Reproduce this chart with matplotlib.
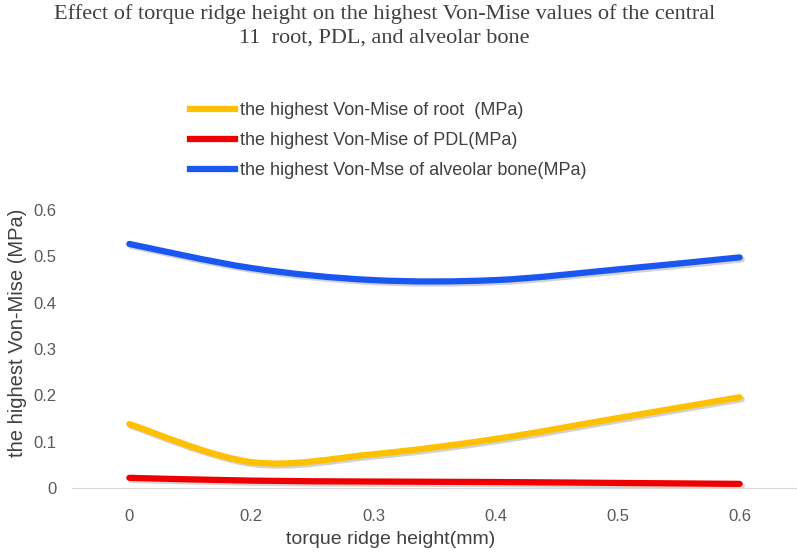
import matplotlib.pyplot as plt
import matplotlib.patheffects as pe
import numpy as np
from matplotlib.path import Path
from matplotlib.patches import PathPatch
from matplotlib.lines import Line2D

plt.rcParams['font.family'] = ['Liberation Sans', 'DejaVu Sans']

heights = ['0', '0.2', '0.3', '0.4', '0.5', '0.6']
root = [0.138, 0.056, 0.073, 0.106, 0.151, 0.196]
pdl = [0.022, 0.016, 0.014, 0.013, 0.011, 0.009]
bone = [0.527, 0.475, 0.449, 0.449, 0.472, 0.498]

labels = ['the highest Von-Mise of root  (MPa)',
          'the highest Von-Mise of PDL(MPa)',
          'the highest Von-Mse of alveolar bone(MPa)']
colors = ['#FFC000', '#EE0000', '#1A56F0']


def smooth_path(x, y):
    # Excel-like smoothed line: cubic bezier with catmull-rom control points
    pts = np.column_stack([x, y]).astype(float)
    ext = np.vstack([pts[0], pts, pts[-1]])
    verts = [pts[0]]
    codes = [Path.MOVETO]
    for i in range(1, len(ext) - 2):
        p0, p1, p2, p3 = ext[i - 1], ext[i], ext[i + 1], ext[i + 2]
        c1 = p1 + (p2 - p0) / 6
        c2 = p2 - (p3 - p1) / 6
        verts += [c1, c2, p2]
        codes += [Path.CURVE4] * 3
    return Path(verts, codes)


fig = plt.figure(figsize=(7.97, 5.53), dpi=100)
ax = fig.add_axes([0.0903, 0.1175, 0.9097, 0.5025])

xs = np.arange(len(heights))
shadow = [pe.SimpleLineShadow(offset=(1.5, -1.5), shadow_color='gray', alpha=0.35),
          pe.Normal()]
for vals, c in zip([root, pdl, bone], colors):
    patch = PathPatch(smooth_path(xs, vals), facecolor='none', edgecolor=c,
                      lw=4.5, capstyle='round', path_effects=shadow, zorder=3)
    ax.add_patch(patch)

ax.set_xlim(-0.47, 5.47)
ax.set_ylim(0, 0.6)
ax.set_xticks(xs)
ax.set_xticklabels(heights)
ax.set_yticks(np.arange(0, 0.61, 0.1))
ax.set_yticklabels(['0', '0.1', '0.2', '0.3', '0.4', '0.5', '0.6'])
for s in ['top', 'right', 'left']:
    ax.spines[s].set_visible(False)
ax.spines['bottom'].set_color('#D9D9D9')
ax.tick_params(length=0, labelsize=12, labelcolor='#595959')
ax.tick_params(axis='x', pad=15)
ax.tick_params(axis='y', pad=11)

ax.set_xlabel('torque ridge height(mm)', fontsize=14, color='#404040')
ax.xaxis.set_label_coords(0.44, -0.155)
ax.set_ylabel('the highest Von-Mise (MPa)', fontsize=14.5, color='#404040')
ax.yaxis.set_label_coords(-0.062, 0.56)

fig.text(0.482, 0.992, 'Effect of torque ridge height on the highest Von-Mise values of the central\n'
         '11  root, PDL, and alveolar bone', ha='center', va='top',
         family=['Liberation Serif'], fontsize=16, color='#404040', linespacing=1.3)

handles = [Line2D([], [], color=c, lw=4.5) for c in colors]
fig.legend(handles, labels, loc='upper left', bbox_to_anchor=(0.238, 0.815),
           frameon=False, fontsize=13, handlelength=2.5, handletextpad=0.28,
           labelspacing=0.72, borderpad=0, borderaxespad=0, labelcolor='#404040')

fig.savefig('out.png', dpi=100)
